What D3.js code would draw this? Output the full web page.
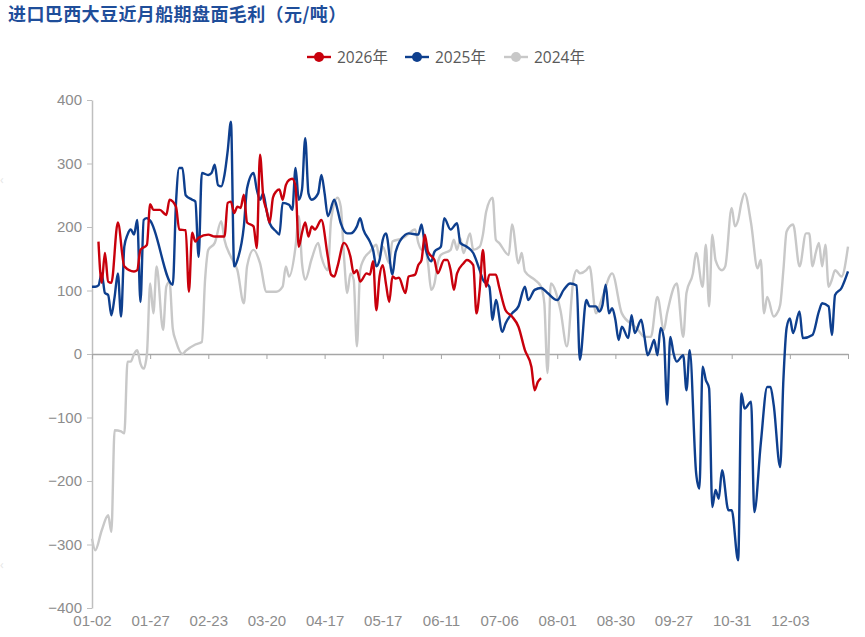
<!DOCTYPE html>
<html>
<head>
<meta charset="utf-8">
<script src="https://cdn.jsdelivr.net/npm/d3@7"></script>
<style>
  body { margin: 0; background: #fff; }
  svg { display: block; font-family: "Open Sans", "Noto Sans CJK SC", sans-serif; }
</style>
</head>
<body>
<div id="chart"></div>
<script>
// chart values
var title = "进口巴西大豆近月船期盘面毛利（元/吨）";
var seriesNames = ["2026年", "2025年", "2024年"];
var tickLabels = ["01-02", "01-27", "02-23", "03-20", "04-17", "05-17", "06-11",
                  "07-06", "08-01", "08-30", "09-27", "10-31", "12-03"];
var yTicks = [400, 300, 200, 100, 0, -100, -200, -300, -400];
var dayCount = 235;   // trading days on the category axis
var tickEvery = 18;   // one label per 18 trading days

// [trading day, margin]
var data2026 = [[2,177],[3,112],[4,159],[5,114],[6,112],[8,207],[10,138],[13,130],[14,132],[15,164],
  [17,172],[18,236],[19,227],[21,227],[23,219],[24,243],[26,232],[27,196],[29,195],[30,98],[31,191],
  [32,177],[33,183],[36,188],[38,185],[41,185],[42,238],[43,240],[44,222],[45,232],[46,230],[47,251],
  [48,207],[50,201],[51,167],[52,314],[53,248],[54,227],[55,207],[56,246],[57,256],[58,259],[59,243],
  [60,266],[61,274],[62,276],[63,264],[64,169],[65,191],[66,207],[67,185],[68,201],[69,196],[71,211],
  [73,153],[74,125],[75,122],[76,138],[78,175],[80,153],[81,127],[82,132],[83,114],[85,127],[86,125],
  [87,146],[88,69],[89,122],[90,140],[91,110],[92,82],[93,122],[94,119],[95,120],[97,96],[98,122],
  [100,125],[101,140],[102,148],[103,188],[104,161],[106,148],[107,127],[109,148],[110,148],[111,132],
  [112,101],[113,127],[115,143],[116,148],[118,140],[119,64],[120,101],[121,164],[122,106],[123,125],
  [125,125],[126,106],[128,69],[130,59],[132,43],[134,6],[136,-20],[137,-57],[138,-44],[139,-38]];

var data2025 = [[0,106],[1,106],[2,108],[3,127],[4,96],[5,93],[6,61],[7,90],[8,127],[9,59],[10,169],
  [11,188],[12,196],[13,188],[14,211],[15,82],[16,211],[17,214],[18,210],[25,109],[26,238],[27,293],
  [28,293],[29,250],[31,243],[32,240],[33,153],[34,285],[36,282],[37,285],[38,298],[39,266],[40,264],
  [41,282],[42,320],[43,366],[44,138],[45,148],[47,201],[48,261],[50,285],[51,259],[52,243],[53,253],
  [54,227],[55,206],[57,193],[58,188],[59,238],[61,235],[62,227],[63,293],[64,243],[65,259],[66,340],
  [67,253],[68,243],[70,253],[71,282],[72,253],[73,217],[75,243],[76,227],[77,206],[79,190],[80,190],
  [82,201],[83,214],[84,196],[86,177],[87,164],[88,138],[89,148],[90,180],[91,190],[93,125],[94,161],
  [97,188],[98,190],[101,188],[102,204],[103,172],[105,146],[106,161],[108,169],[109,214],[111,196],
  [113,206],[114,175],[116,169],[118,159],[120,132],[121,117],[123,106],[124,54],[125,85],[127,35],
  [128,48],[130,64],[132,75],[134,106],[135,85],[137,101],[139,104],[141,96],[144,85],[146,101],
  [148,111],[150,108],[151,-9],[153,85],[154,75],[156,75],[157,67],[158,77],[159,109],[160,64],
  [161,72],[162,54],[163,22],[164,43],[166,25],[167,61],[168,33],[170,54],[171,27],[172,-2],[173,9],
  [174,22],[175,-2],[176,41],[177,25],[178,-80],[179,27],[180,1],[181,-12],[183,-2],[184,-57],[185,6],
  [187,-188],[188,-212],[189,-20],[190,-41],[191,-54],[192,-241],[193,-214],[194,-228],[195,-183],
  [197,-246],[198,-246],[200,-325],[201,-62],[202,-86],[204,-75],[205,-249],[207,-141],[209,-52],
  [210,-52],[211,-80],[213,-178],[214,-41],[215,41],[216,56],[217,33],[219,67],[220,25],[223,30],
  [225,67],[226,80],[228,75],[229,30],[230,93],[232,104],[234,130]];

var data2024 = [[0,-291],[1,-309],[3,-278],[5,-254],[6,-280],[7,-120],[9,-122],[10,-125],[11,-12],
  [12,-12],[13,0],[14,6],[15,-15],[16,-23],[17,0],[18,111],[19,64],[20,138],[22,38],[23,106],[24,114],
  [25,40],[26,20],[28,0],[29,5],[32,15],[34,19],[35,117],[36,164],[38,175],[40,209],[41,180],[43,153],
  [45,132],[47,80],[48,138],[50,164],[52,143],[54,98],[57,98],[59,106],[60,138],[61,122],[63,169],
  [64,217],[65,143],[66,117],[68,150],[70,175],[71,153],[73,132],[74,211],[76,246],[77,232],[78,153],
  [79,96],[80,127],[81,117],[82,12],[83,132],[84,148],[86,161],[88,172],[89,153],[90,169],[92,143],
  [93,177],[96,182],[97,185],[100,196],[101,175],[102,164],[103,167],[104,143],[105,101],[106,111],
  [107,143],[108,156],[111,164],[112,180],[113,164],[114,182],[115,159],[117,190],[118,164],[120,169],
  [121,188],[122,224],[124,246],[125,180],[126,175],[129,156],[130,204],[132,143],[133,159],[134,130],
  [137,117],[139,106],[140,80],[141,-30],[142,111],[145,69],[147,12],[149,117],[150,132],[151,127],
  [153,132],[154,138],[156,64],[158,90],[161,127],[164,64],[168,43],[169,38],[171,27],[173,27],[175,90],
  [177,38],[178,64],[181,111],[183,27],[184,96],[186,127],[187,159],[189,106],[190,172],[191,75],
  [192,188],[193,148],[195,132],[196,138],[198,230],[199,201],[200,211],[201,238],[202,253],[204,206],
  [206,135],[207,148],[208,64],[209,90],[211,59],[212,64],[213,77],[214,132],[215,193],[217,204],
  [219,138],[221,190],[222,190],[223,138],[224,159],[225,175],[226,138],[227,172],[228,106],[229,117],
  [230,132],[232,122],[234,169]];

var colors = ["#c8000c", "#0e3f8e", "#c8c8c8"];

var width = 865, height = 637;
var margin = {top: 100, right: 17, bottom: 29, left: 92};

var svg = d3.select("#chart").append("svg")
    .attr("width", width)
    .attr("height", height);

var x = d3.scaleLinear()
    .domain([0, dayCount - 1])
    .range([margin.left, width - margin.right]);

var y = d3.scaleLinear()
    .domain([-400, 400])
    .range([height - margin.bottom, margin.top]);

// title
svg.append("text")
    .attr("x", 8)
    .attr("y", 21)
    .attr("fill", "#1f4e9a")
    .attr("font-size", 18)
    .attr("font-weight", "bold")
    .attr("letter-spacing", 0.4)
    .attr("font-family", "'Noto Sans CJK SC', sans-serif")
    .text(title);

// y axis
var yAxis = d3.axisLeft(y)
    .tickValues(yTicks)
    .tickSize(5)
    .tickSizeOuter(0)
    .tickPadding(5);

var gy = svg.append("g")
    .attr("transform", "translate(" + margin.left + ",0)")
    .call(yAxis);
gy.select(".domain").attr("stroke", "#bfbfbf").attr("stroke-width", 1.5);
gy.selectAll(".tick line").attr("stroke", "#bfbfbf");
gy.selectAll(".tick text").attr("fill", "#8c8c8c").attr("font-size", 15);

// x axis sits on the zero line, labels go to the bottom
var xAxis = d3.axisBottom(x)
    .tickValues(d3.range(0, dayCount, tickEvery))
    .tickFormat(function(d, i) { return tickLabels[i]; })
    .tickSize(5)
    .tickSizeOuter(0);

var gx = svg.append("g")
    .attr("transform", "translate(0," + y(0) + ")")
    .call(xAxis);
gx.select(".domain").attr("stroke", "#a6a6a6").attr("stroke-width", 1.5);
gx.selectAll(".tick line").attr("stroke", "#a6a6a6");
gx.selectAll(".tick text")
    .attr("y", height - margin.bottom - y(0) + 7)
    .attr("fill", "#8c8c8c")
    .attr("font-size", 15);

// lines, oldest first so 2026 ends up on top
var line = d3.line()
    .x(function(d) { return x(d[0]); })
    .y(function(d) { return y(d[1]); })
    .curve(d3.curveMonotoneX);

var series = [data2026, data2025, data2024];
[2, 1, 0].forEach(function(k) {
    svg.append("path")
        .datum(series[k])
        .attr("fill", "none")
        .attr("stroke", colors[k])
        .attr("stroke-width", 2.4)
        .attr("stroke-linejoin", "round")
        .attr("d", line);
});

// legend
var legendX = [307, 405, 504];
var legend = svg.append("g");
seriesNames.forEach(function(name, k) {
    var g = legend.append("g").attr("transform", "translate(" + legendX[k] + ",57)");
    g.append("line")
        .attr("x1", 0).attr("x2", 24)
        .attr("stroke", colors[k])
        .attr("stroke-width", 2.4);
    g.append("circle")
        .attr("cx", 12)
        .attr("r", 5)
        .attr("fill", colors[k]);
    g.append("text")
        .attr("x", 30)
        .attr("y", 5.5)
        .attr("fill", "#595959")
        .attr("font-size", 15.5)
        .text(name);
});

// faint carousel arrows on the left edge of the screenshot
[180, 565].forEach(function(yy) {
    svg.append("text")
        .attr("x", 0)
        .attr("y", yy + 4)
        .attr("fill", "#e6e6e6")
        .attr("font-size", 12)
        .text("‹");
});
</script>
</body>
</html>
